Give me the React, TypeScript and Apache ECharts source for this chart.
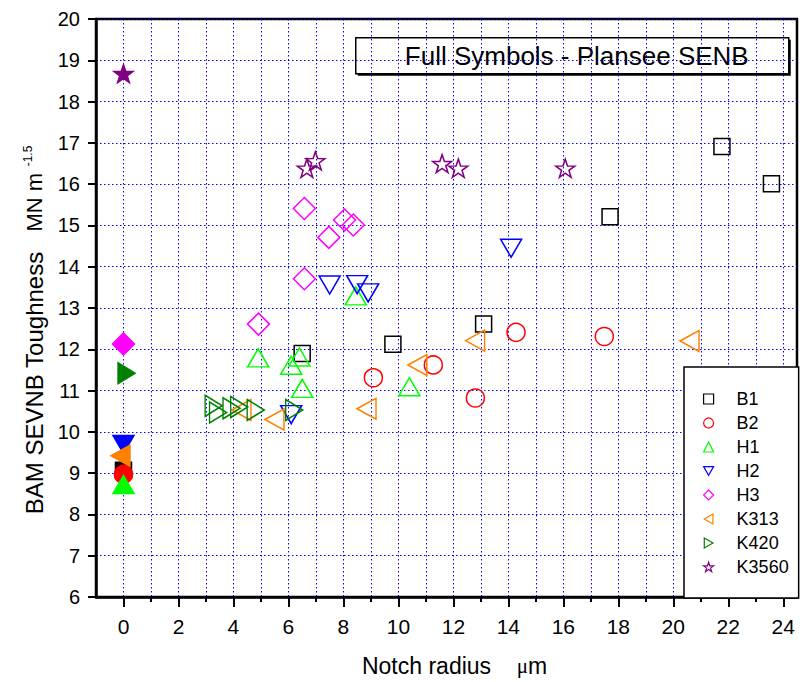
import React, { useEffect, useRef } from "react";
import * as echarts from "echarts";

const FONT = "'Liberation Sans', Arial, sans-serif";

// ---- data (x = notch radius µm, y = toughness MN m^-1.5) ----
const seriesNames = ["B1", "B2", "H1", "H2", "H3", "K313", "K420", "K3560"];

const b1Open = [[6.5, 11.9], [9.8, 12.12], [13.1, 12.61], [17.7, 15.21], [21.77, 16.91], [23.57, 16.01]];
const b1Full = [[0, 9.07]];
const b2Open = [[9.09, 11.31], [11.27, 11.62], [12.8, 10.82], [14.28, 12.41], [17.49, 12.31]];
const b2Full = [[0, 8.97]];
const h1Open = [[4.9, 11.72], [6.1, 11.54], [6.4, 11.74], [6.5, 10.98], [8.45, 13.22], [10.4, 11.02]];
const h1Full = [[0, 8.65]];
const h2Open = [[6.1, 10.49], [7.5, 13.63], [8.5, 13.64], [8.9, 13.44], [14.1, 14.52]];
const h2Full = [[0, 9.77]];
const h3Open = [[4.91, 12.61], [6.58, 15.41], [6.58, 13.71], [7.47, 14.71], [8.04, 15.13], [8.36, 15.01]];
const h3Full = [[0, 12.13]];
const k313Open = [[4.4, 10.53], [5.6, 10.3], [8.95, 10.56], [10.8, 11.62], [12.9, 12.21], [20.7, 12.2]];
const k313Full = [[0, 9.42]];
const k420Open = [[3.17, 10.63], [3.33, 10.47], [3.82, 10.57], [4.1, 10.6], [4.7, 10.53], [6.1, 10.53]];
const k420Full = [[0, 11.42]];
const k3560Open = [[6.67, 16.41], [6.98, 16.59], [11.59, 16.52], [12.18, 16.41], [16.07, 16.41]];
const k3560Full = [[0, 18.7]];

const xGridValues = [0, 1, 2, 3, 4, 5, 6, 7, 8, 9, 10, 11, 12, 13, 14, 15, 16, 17, 18, 19, 20, 21, 22, 23, 24];
const xLabelValues = [0, 2, 4, 6, 8, 10, 12, 14, 16, 18, 20, 22, 24];

// ---- symbol shapes ----
const DOWN = "path://M0,0L20,0L10,17.32Z";
const LEFT = "path://M0,10L17.32,0L17.32,20Z";
const RIGHT = "path://M0,0L17.32,10L0,20Z";
function starPath() {
  const pts: string[] = [];
  for (let i = 0; i < 10; i++) {
    const r = i % 2 === 0 ? 10 : 3.9;
    const a = -Math.PI / 2 + (i * Math.PI) / 5;
    pts.push(`${(r * Math.cos(a)).toFixed(3)},${(r * Math.sin(a)).toFixed(3)}`);
  }
  return "path://M" + pts.join("L") + "Z";
}
const STAR = starPath();

const specs = [
  { open: b1Open, full: b1Full, symbol: "rect", size: [16, 16], color: "#000000", offset: [0, 0] },
  { open: b2Open, full: b2Full, symbol: "circle", size: [18, 18], color: "#ff0000", offset: [0, 0] },
  { open: h1Open, full: h1Full, symbol: "triangle", size: [21, 18], color: "#00ff00", offset: [0, -3] },
  { open: h2Open, full: h2Full, symbol: DOWN, size: [21, 18], color: "#0000ff", offset: [0, 3] },
  { open: h3Open, full: h3Full, symbol: "diamond", size: [22, 22], color: "#ff00ff", offset: [0, 0] },
  { open: k313Open, full: k313Full, symbol: LEFT, size: [19, 21], color: "#ff8000", offset: [-3, 0] },
  { open: k420Open, full: k420Full, symbol: RIGHT, size: [17, 21], color: "#008000", offset: [3, 0] },
  { open: k3560Open, full: k3560Full, symbol: STAR, size: [19, 18], color: "#800080", offset: [0, 1] },
];

const gridLine = { show: true, lineStyle: { color: "#0000ff", width: 1, type: [1.5, 2.5] as any } };

function buildOption(): any {
  const series = specs.map((s, i) => ({
    type: "scatter",
    name: seriesNames[i],
    xAxisIndex: 0,
    yAxisIndex: 0,
    symbol: s.symbol,
    symbolSize: s.size,
    symbolOffset: s.offset,
    emphasis: { disabled: true },
    itemStyle: { color: "rgba(255,255,255,0)", borderColor: s.color, borderWidth: 1.5, opacity: 1 },
    data: [
      ...s.open.map((p) => ({ value: p })),
      ...s.full.map((p) => ({ value: p, itemStyle: { color: s.color, borderColor: s.color } })),
    ],
  }));

  return {
    animation: false,
    textStyle: { fontFamily: FONT },
    grid: {
      left: 96, top: 19, right: 11, bottom: 81,
      show: true, borderColor: "#000", borderWidth: 2.5, backgroundColor: "transparent",
    },
    xAxis: [
      {
        type: "value", min: -1, max: 24.5, interval: 1,
        name: "{n|Notch radius}{n|    }{mu|\u03bc}{n|m}",
        nameLocation: "middle", nameGap: 57,
        nameTextStyle: {
          padding: [0, 0, 0, 16],
          rich: {
            n: { fontSize: 23, fontFamily: FONT, color: "#000" },
            mu: { fontSize: 21, fontFamily: "'Liberation Serif', serif", color: "#000" },
          },
        },
        axisLine: { show: true, onZero: false, lineStyle: { color: "#000", width: 2.5 } },
        axisTick: { show: true, customValues: xGridValues, length: 5, lineStyle: { color: "#000", width: 2 } },
        axisLabel: { customValues: xLabelValues, fontSize: 21, color: "#000", fontFamily: FONT, margin: 19 },
        splitLine: gridLine,
      },
      {
        type: "value", min: -1, max: 24.5, interval: 1, position: "bottom",
        axisLine: { show: false },
        axisTick: { show: true, customValues: xLabelValues, length: 10, lineStyle: { color: "#000", width: 2 } },
        axisLabel: { show: false },
        splitLine: { show: false },
      },
    ],
    yAxis: {
      type: "value", min: 6, max: 20, interval: 1,
      name: "{a|BAM SEVNB Toughness}{a|   }{b|MN m}{c|  -1.5}",
      nameLocation: "middle", nameGap: 50,
      nameTextStyle: {
        fontSize: 24,
        padding: [0, 44, 0, 0],
        rich: {
          a: { fontSize: 24, fontFamily: FONT, color: "#000" },
          b: { fontSize: 22, fontFamily: FONT, color: "#000" },
          c: { fontSize: 12, fontFamily: FONT, color: "#000", verticalAlign: "top" },
        },
      },
      axisLine: { show: true, onZero: false, lineStyle: { color: "#000", width: 2.5 } },
      axisTick: { show: true, length: 8, lineStyle: { color: "#000", width: 2 } },
      axisLabel: { fontSize: 20, color: "#000", fontFamily: FONT, margin: 16 },
      splitLine: gridLine,
    },
    legend: {
      data: seriesNames,
      orient: "vertical",
      left: 684, top: 367,
      padding: [23, 10, 22, 19],
      itemWidth: 10, itemHeight: 10, itemGap: 6,
      backgroundColor: "#fff",
      borderColor: "#000", borderWidth: 1.5,
      itemStyle: { borderWidth: 1.2 },
      textStyle: { fontSize: 18, fontFamily: FONT, color: "#000", lineHeight: 16, padding: [0, 0, 0, 18] },
      selectedMode: false,
    },
    graphic: [
      {
        type: "group", left: 355, top: 37, z: 100,
        children: [
          { type: "rect", shape: { x: 2, y: 2, width: 433, height: 36 }, style: { fill: "#000" } },
          { type: "rect", shape: { x: 0, y: 0, width: 433, height: 36 }, style: { fill: "#fff", stroke: "#000", lineWidth: 1.5 } },
          {
            type: "text", x: 221, y: 18,
            style: { text: "Full Symbols - Plansee SENB", fontSize: 26, fontFamily: FONT, fill: "#000", align: "center", verticalAlign: "middle" },
          },
        ],
      },
    ],
    series,
  };
}

export default function App() {
  const ref = useRef<HTMLDivElement>(null);
  useEffect(() => {
    document.body.style.margin = "0";
    const chart = echarts.init(ref.current!, null, { renderer: "svg" });
    chart.setOption(buildOption());
    return () => chart.dispose();
  }, []);
  return <div ref={ref} style={{ width: 808, height: 682 }} />;
}
